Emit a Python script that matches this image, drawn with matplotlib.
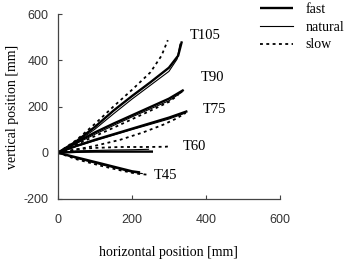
import matplotlib
matplotlib.use("Agg")
import matplotlib.pyplot as plt
from matplotlib.lines import Line2D

# ---- data (mm) ----
t105_fast_x = [0, 50, 100, 150, 200, 250, 300, 325, 335]
t105_fast_y = [0, 50, 112, 182, 245, 305, 368, 420, 482]
t105_nat_x = [0, 50, 100, 150, 200, 250, 300, 322, 330]
t105_nat_y = [0, 45, 102, 168, 232, 292, 352, 405, 470]
t105_slow_x = [0, 50, 100, 150, 200, 250, 280, 297]
t105_slow_y = [0, 55, 125, 200, 272, 348, 420, 487]

t90_fast_x = [0, 50, 100, 150, 200, 250, 300, 340]
t90_fast_y = [0, 45, 88, 126, 162, 198, 234, 272]
t90_nat_x = [0, 50, 100, 150, 200, 250, 300, 335]
t90_nat_y = [0, 40, 80, 118, 155, 190, 225, 262]
t90_slow_x = [0, 50, 100, 150, 200, 250, 300, 325]
t90_slow_y = [0, 36, 72, 108, 145, 182, 220, 250]

t75_fast_x = [0, 50, 100, 150, 200, 250, 300, 350]
t75_fast_y = [0, 30, 56, 80, 104, 128, 152, 180]
t75_nat_x = [0, 50, 100, 150, 200, 250, 300, 345]
t75_nat_y = [0, 27, 52, 76, 100, 123, 146, 172]
t75_slow_x = [0, 50, 100, 168, 230, 284, 320, 345]
t75_slow_y = [0, 14, 30, 56, 88, 121, 148, 172]

t60_fast_x = [0, 50, 100, 150, 200, 257]
t60_fast_y = [0, 4, 5, 5, 5, 5]
t60_nat_x = [0, 50, 100, 150, 200, 245]
t60_nat_y = [0, 8, 10, 12, 13, 15]
t60_slow_x = [0, 50, 100, 168, 240, 290, 303]
t60_slow_y = [0, 15, 21, 25, 25, 26, 28]

t45_fast_x = [0, 50, 113, 160, 200, 222]
t45_fast_y = [0, -20, -45, -64, -80, -85]
t45_nat_x = [0, 50, 113, 160, 200, 228]
t45_nat_y = [0, -24, -50, -68, -84, -90]
t45_slow_x = [0, 50, 113, 160, 210, 243]
t45_slow_y = [0, -28, -55, -73, -90, -95]

curve_labels = ["T105", "T90", "T75", "T60", "T45"]
label_x = [397, 419, 422, 370, 292]
label_y = [506, 325, 186, 26, -97]

legend_labels = ["fast", "natural", "slow"]

x_ticks = [0, 200, 400, 600]
y_ticks = [-200, 0, 200, 400, 600]

# ---- figure ----
fig = plt.figure(figsize=(3.49, 2.76), dpi=100)
ax = fig.add_axes([0.166, 0.279, 0.636, 0.670])

serif = ["Liberation Serif", "DejaVu Serif"]
narrow = ["Liberation Sans Narrow", "Liberation Sans", "DejaVu Sans"]

fast_kw = dict(color="black", lw=1.7, solid_capstyle="butt")
nat_kw = dict(color="black", lw=0.8)
slow_kw = dict(color="black", lw=1.3, linestyle=(0, (1.6, 1.9)))

groups = [
    (t105_fast_x, t105_fast_y, t105_nat_x, t105_nat_y, t105_slow_x, t105_slow_y),
    (t90_fast_x, t90_fast_y, t90_nat_x, t90_nat_y, t90_slow_x, t90_slow_y),
    (t75_fast_x, t75_fast_y, t75_nat_x, t75_nat_y, t75_slow_x, t75_slow_y),
    (t60_fast_x, t60_fast_y, t60_nat_x, t60_nat_y, t60_slow_x, t60_slow_y),
    (t45_fast_x, t45_fast_y, t45_nat_x, t45_nat_y, t45_slow_x, t45_slow_y),
]
for fx, fy, nx, ny, sx, sy in groups:
    ax.plot(fx, fy, **fast_kw)
    ax.plot(nx, ny, **nat_kw)
    ax.plot(sx, sy, **slow_kw)

for lab, lx, ly in zip(curve_labels, label_x, label_y):
    ax.text(lx, ly, lab, ha="center", va="center", fontsize=10.5,
            family=serif)

ax.set_xlim(0, 600)
ax.set_ylim(-200, 600)
ax.set_xticks(x_ticks)
ax.set_yticks(y_ticks)
ax.set_xticklabels([str(v) for v in x_ticks], family=narrow, fontsize=9,
                   color="#333333")
ax.set_yticklabels([str(v) for v in y_ticks], family=narrow, fontsize=9,
                   color="#333333")
ax.tick_params(axis="both", direction="in", length=3, width=0.8,
               color="#444444")
ax.tick_params(axis="y", pad=7)
ax.tick_params(axis="x", pad=11)
for s in ["top", "right"]:
    ax.spines[s].set_visible(False)
for s in ["left", "bottom"]:
    ax.spines[s].set_color("#444444")
    ax.spines[s].set_linewidth(0.9)

ax.set_xlabel("horizontal position [mm]", family=serif, fontsize=10,
              labelpad=14)
ax.set_ylabel("vertical position [mm]", family=serif, fontsize=10,
              labelpad=3)

handles = [Line2D([], [], **fast_kw), Line2D([], [], **nat_kw),
           Line2D([], [], **slow_kw)]
fig.legend(handles, legend_labels, loc="upper left",
           bbox_to_anchor=(0.745, 0.99), frameon=False,
           prop={"family": serif, "size": 10}, handlelength=2.4,
           handletextpad=0.9, labelspacing=0.35, borderaxespad=0,
           borderpad=0)

fig.savefig("out.png", dpi=100)
